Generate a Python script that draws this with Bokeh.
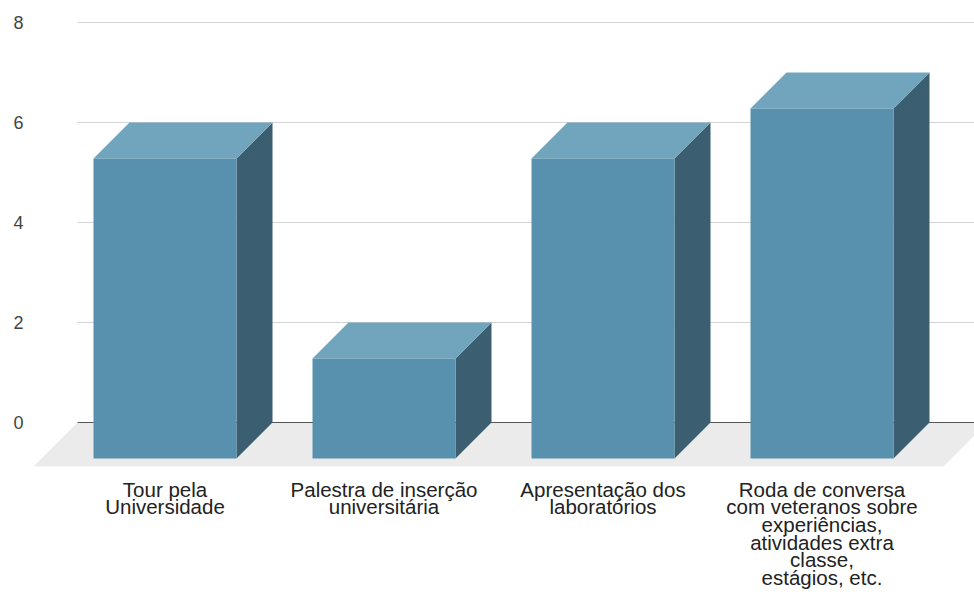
from bokeh.plotting import figure
from bokeh.models import Range1d, FixedTicker, ColumnDataSource
from bokeh.core.properties import value
from bokeh.embed import file_html
from bokeh.resources import INLINE

# ---- data ----
categories = [
    "Tour pela\nUniversidade",
    "Palestra de inserção\nuniversitária",
    "Apresentação dos\nlaboratórios",
    "Roda de conversa\ncom veteranos sobre\nexperiências,\natividades extra\nclasse,\nestágios, etc.",
]
counts = [6, 2, 6, 7]
y_ticks = [0, 2, 4, 6, 8]

# ---- layout constants (pixels -> data units) ----
W, H = 974, 599
FRAME_LEFT = 30
PX_CAT = 219.0          # pixels per category slot
PX_UNIT = 50.0          # pixels per value unit
ZERO_PX = 422.0         # y pixel of value 0 on the back wall
ORIGIN_PX = 55.0        # x pixel of category coordinate 0

def xu(px):
    return px / PX_CAT

def yu(px):
    return px / PX_UNIT

bar_half = xu(71.5)
bar_dx, bar_dy = xu(36), yu(36)
floor_dx, floor_dy = xu(44), yu(44)

FRONT = "#5891ae"
TOP = "#71a5be"
SIDE = "#3b5f71"
FLOOR = "#ebebeb"
FONT = "Liberation Sans"

x_start = (FRAME_LEFT - ORIGIN_PX) / PX_CAT
x_end = (W - ORIGIN_PX) / PX_CAT
y_top = ZERO_PX / PX_UNIT
y_bottom = -(H - ZERO_PX) / PX_UNIT

p = figure(width=W, height=H, output_backend="svg", toolbar_location=None,
           x_range=Range1d(x_start, x_end), y_range=Range1d(y_bottom, y_top),
           min_border_left=FRAME_LEFT, min_border_right=0,
           min_border_top=0, min_border_bottom=0)
p.outline_line_color = None
p.xaxis.visible = False
p.xgrid.grid_line_color = None
p.ygrid.grid_line_color = None
p.background_fill_color = "white"
p.border_fill_color = "white"

yax = p.yaxis[0]
yax.ticker = FixedTicker(ticks=y_ticks)
yax.axis_line_color = None
yax.major_tick_line_color = None
yax.minor_tick_line_color = None
yax.major_tick_out = 0
yax.major_tick_in = 0
yax.major_label_standoff = 7
yax.major_label_text_font = FONT
yax.major_label_text_font_size = "18px"
yax.major_label_text_color = "#444444"

n = len(categories)

# floor
f_left_front = xu(33 - ORIGIN_PX)
f_right_front = xu(943 - ORIGIN_PX)
p.patch([f_left_front, f_right_front, f_right_front + floor_dx, f_left_front + floor_dx],
        [-floor_dy, -floor_dy, 0, 0], fill_color=FLOOR, line_color=None)

# gridlines on the back wall
g_x0 = f_left_front + floor_dx
g_x1 = f_right_front + floor_dx
grid_vals = [t for t in y_ticks if t != 0]
p.segment(x0=[g_x0] * len(grid_vals), x1=[g_x1] * len(grid_vals),
          y0=grid_vals, y1=grid_vals, line_color="#d4d4d4", line_width=1)
p.segment(x0=[g_x0], x1=[g_x1], y0=[0], y1=[0], line_color="#555555", line_width=1)

# bars
centers = [i + 0.5 for i in range(n)]
front_xs, front_ys, top_xs, top_ys, side_xs, side_ys = [], [], [], [], [], []
for c, v in zip(centers, counts):
    x0, x1 = c - bar_half, c + bar_half
    yb, yt = -bar_dy, v - bar_dy
    front_xs.append([x0, x1, x1, x0]); front_ys.append([yb, yb, yt, yt])
    top_xs.append([x0, x1, x1 + bar_dx, x0 + bar_dx]); top_ys.append([yt, yt, v, v])
    side_xs.append([x1, x1 + bar_dx, x1 + bar_dx, x1]); side_ys.append([yb, 0, v, yt])

p.patches(side_xs, side_ys, fill_color=SIDE, line_color=None)
p.patches(top_xs, top_ys, fill_color=TOP, line_color=None)
p.patches(front_xs, front_ys, fill_color=FRONT, line_color=None)

# category labels
src = ColumnDataSource(dict(x=centers, y=[yu(ZERO_PX - 477)] * n, text=categories))
p.text(x="x", y="y", text="text", source=src, text_font=value(FONT),
       text_font_size="20.5px", text_color="#222222", text_align="center",
       text_baseline="top", text_line_height=0.77)

open("out.html", "w").write(file_html(p, INLINE))
